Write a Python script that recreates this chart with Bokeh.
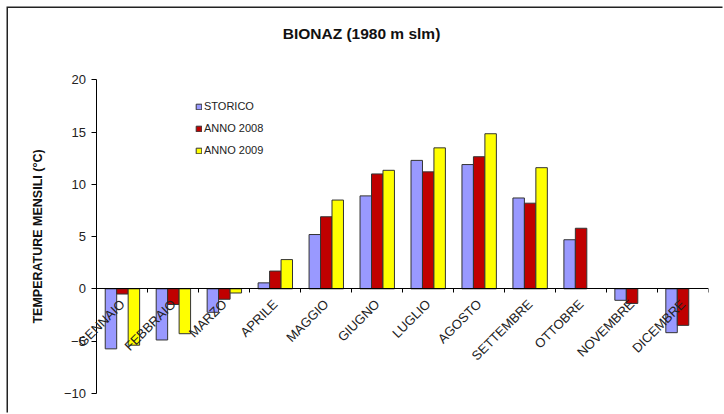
from bokeh.plotting import figure
from bokeh.models import (ColumnDataSource, Range1d, FixedTicker, Legend, LegendItem, Label)
from bokeh.transform import dodge
from bokeh.embed import file_html
from bokeh.resources import INLINE

months = ["GENNAIO", "FEBBRAIO", "MARZO", "APRILE", "MAGGIO", "GIUGNO",
          "LUGLIO", "AGOSTO", "SETTEMBRE", "OTTOBRE", "NOVEMBRE", "DICEMBRE"]
storico = [-5.75, -4.9, -2.25, 0.57, 5.2, 8.9, 12.3, 11.9, 8.7, 4.7, -1.1, -4.2]
anno_2008 = [-0.5, -1.5, -1.0, 1.7, 6.9, 11.0, 11.2, 12.65, 8.2, 5.8, -1.4, -3.5]
anno_2009 = [-5.4, -4.3, -0.4, 2.8, 8.5, 11.35, 13.5, 14.85, 11.6, None, None, None]
series_names = ["STORICO", "ANNO 2008", "ANNO 2009"]
y_ticks = [-10, -5, 0, 5, 10, 15, 20]
y_min, y_max = -10, 20
title_text = "BIONAZ (1980 m slm)"
y_title = "TEMPERATURE MENSILI (°C)"

FONT = "Liberation Sans"
n = len(months)
pos = [i + 0.5 for i in range(n)]
src = ColumnDataSource(dict(
    x=pos, s=storico, a8=anno_2008,
    a9=[float("nan") if v is None else v for v in anno_2009]))

# the frame is made larger than the axes so that labels and title are not clipped
p = figure(width=716, height=406, output_backend="svg", toolbar_location=None,
           x_range=Range1d(-1.5, n), y_range=Range1d(-11.27, 26.27),
           min_border_left=12, min_border_right=16, min_border_top=6,
           min_border_bottom=8)
p.frame_width = 688
p.frame_height = 392
p.outline_line_color = None
p.xgrid.visible = False
p.ygrid.visible = False
p.background_fill_color = "white"
p.border_fill_color = "white"
p.styles = {"margin-left": "8px", "margin-top": "8px",
            "box-shadow": "-1.5px -1.5px 0 0 #222222"}

bw = 0.225
colors = ["#9999FF", "#C00000", "#FFFF00"]
r1 = p.vbar(x=dodge("x", -bw, range=p.x_range), top="s", width=bw, source=src,
            fill_color=colors[0], line_color="#333333", line_width=1, level="underlay")
r2 = p.vbar(x=dodge("x", 0, range=p.x_range), top="a8", width=bw, source=src,
            fill_color=colors[1], line_color="#333333", line_width=1, level="underlay")
r3 = p.vbar(x=dodge("x", bw, range=p.x_range), top="a9", width=bw, source=src,
            fill_color=colors[2], line_color="#333333", line_width=1, level="underlay")

# x axis drawn at y = 0
xa = p.xaxis[0]
xa.level = "overlay"
xa.fixed_location = 0
xa.bounds = (0, n)
xa.ticker = FixedTicker(ticks=pos, minor_ticks=list(range(n + 1)))
xa.major_label_overrides = {pv: m for pv, m in zip(pos, months)}
xa.major_tick_line_color = None
xa.major_tick_out = 0
xa.major_tick_in = 0
xa.minor_tick_line_color = "black"
xa.minor_tick_out = 4
xa.minor_tick_in = 0
xa.major_label_orientation = 0.785398
xa.major_label_standoff = 9
xa.major_label_text_font = FONT
xa.major_label_text_font_size = "13px"
xa.major_label_text_color = "#222222"
xa.axis_line_color = "black"

# y axis drawn at x = 0
ya = p.yaxis[0]
ya.fixed_location = 0
ya.bounds = (y_min, y_max)
ya.ticker = FixedTicker(ticks=y_ticks, minor_ticks=[])
ya.major_tick_out = 5
ya.major_tick_in = 0
ya.major_label_standoff = 6
ya.major_label_text_font = FONT
ya.major_label_text_font_size = "13px"
ya.major_label_text_color = "#222222"
ya.axis_line_color = "black"
ya.axis_label = y_title
ya.axis_label_text_font = FONT
ya.axis_label_text_font_style = "bold"
ya.axis_label_text_font_size = "12.5px"
ya.axis_label_text_color = "#111111"
ya.axis_label_standoff = 15

legend = Legend(items=[LegendItem(label=series_names[0], renderers=[r1]),
                       LegendItem(label=series_names[1], renderers=[r2]),
                       LegendItem(label=series_names[2], renderers=[r3])],
                location=(175, 250), orientation="vertical",
                glyph_width=7, glyph_height=7, label_standoff=2,
                label_text_font=FONT, label_text_font_size="11px",
                label_text_color="#222222", label_height=12, spacing=10,
                padding=2, margin=0, border_line_color=None,
                background_fill_alpha=0)
p.add_layout(legend, "center")

t = Label(x=341, y=373, x_units="screen", y_units="screen", text=title_text,
          text_align="center", text_baseline="middle", text_font=FONT,
          text_font_size="15.5px", text_font_style="bold", text_color="#111111")
p.add_layout(t)

open("out.html", "w").write(file_html(p, INLINE))
